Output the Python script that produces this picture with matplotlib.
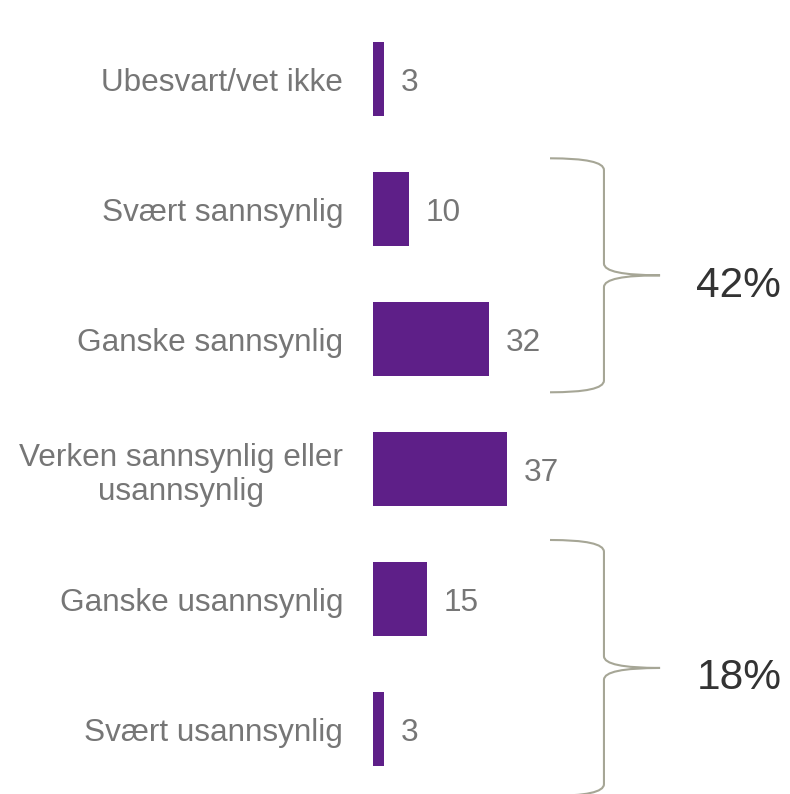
import numpy as np
import matplotlib.pyplot as plt
from matplotlib.path import Path
from matplotlib.patches import PathPatch

plt.rcParams['font.family'] = ['Liberation Sans', 'DejaVu Sans']

categories = ["Ubesvart/vet ikke", "Svært sannsynlig", "Ganske sannsynlig",
              "Verken sannsynlig eller\nusannsynlig", "Ganske usannsynlig",
              "Svært usannsynlig"]
values = [3, 10, 32, 37, 15, 3]
# (first bar, last bar, label, extra above, extra below)
groups = [(1, 2, "42%", 0.39, 0.41), (4, 5, "18%", 0.454, 0.515)]

bar_color = "#5E1F88"
label_color = "#767676"
brace_color = "#A6A696"

fig = plt.figure(figsize=(7.9, 7.94), dpi=100)
ax = fig.add_axes([373 / 790, 0, 1 - 373 / 790, 1])

pos = np.arange(len(categories))
ax.barh(pos, values, height=0.57, color=bar_color)
ax.set_xlim(0, (790 - 373) / 3.62)
ax.set_ylim(5.5, -0.6077)

ax.set_yticks(pos)
ax.set_yticklabels(categories, fontsize=22.7, color=label_color)
for t in ax.get_yticklabels():
    t.set_multialignment('center')
ax.tick_params(axis='y', length=0, pad=21.6)
ax.set_xticks([])
for s in ax.spines.values():
    s.set_visible(False)

for p, v in zip(pos, values):
    ax.text(v + 4.6, p + 0.03, str(v), va='center', ha='left', fontsize=22.7,
            color=label_color)


def brace(ax, y0, y1, x_left, x_mid, x_tip):
    ym = (y0 + y1) / 2
    c = 0.09  # curvature in y units
    verts = [
        (x_left, y0), (x_mid, y0), (x_mid, y0 + c),
        (x_mid, ym - c),
        (x_mid, ym), (x_tip, ym),
        (x_mid, ym), (x_mid, ym + c),
        (x_mid, y1 - c),
        (x_mid, y1), (x_left, y1),
    ]
    codes = [Path.MOVETO, Path.CURVE3, Path.CURVE3,
             Path.LINETO,
             Path.CURVE3, Path.CURVE3,
             Path.CURVE3, Path.CURVE3,
             Path.LINETO,
             Path.CURVE3, Path.CURVE3]
    ax.add_patch(PathPatch(Path(verts, codes), fill=False,
                           edgecolor=brace_color, lw=1.5, clip_on=False))
    return ym


for a, b, txt, up, down in groups:
    ym = brace(ax, a - up, b + down, 48.9, 63.8, 79.3)
    ax.text(89.3, ym + 0.08, txt, va='center', ha='left', fontsize=30.5,
            color="#333333")

fig.savefig("out.png", dpi=100)
